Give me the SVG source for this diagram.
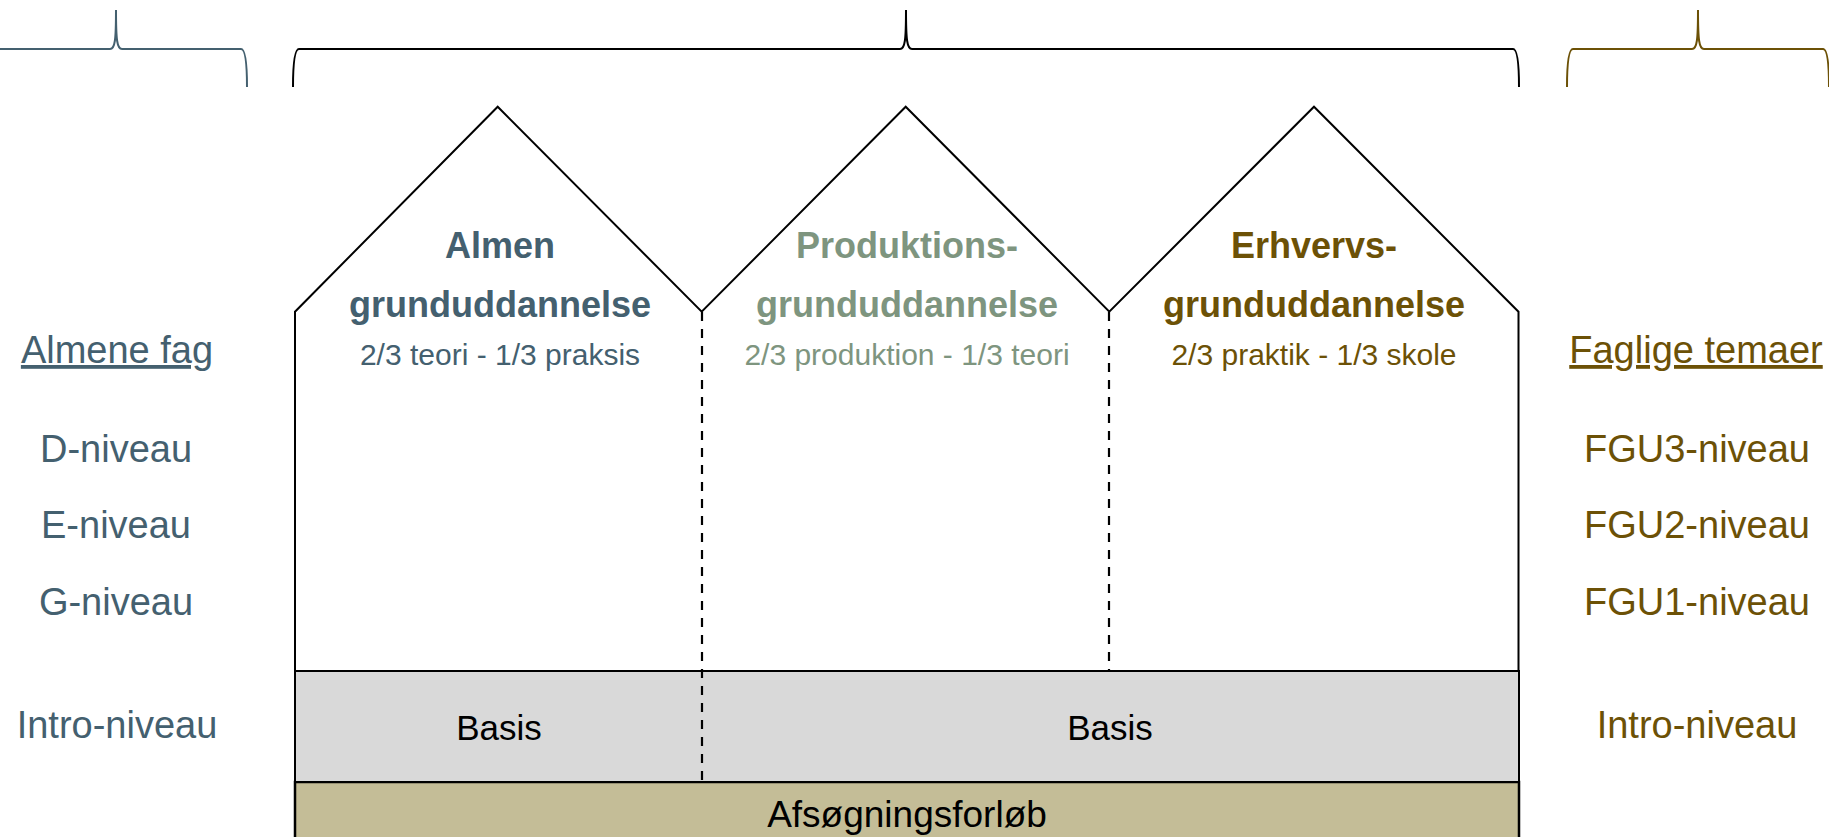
<svg xmlns="http://www.w3.org/2000/svg" width="1829" height="837" viewBox="0 0 1829 837">
  <style>
    text { font-family: "Liberation Sans", Arial, sans-serif; text-anchor: middle; }
    .lbl { font-size: 38px; }
    .title { font-size: 36px; font-weight: bold; }
    .sub { font-size: 30px; }
    .blue { fill: #44606F; }
    .green { fill: #7E957F; }
    .brown { fill: #6C5106; }
    .brace { fill: none; stroke-width: 2; }
    .outline { fill: none; stroke: #000; stroke-width: 2; stroke-linejoin: miter; }
    .dash { stroke: #000; stroke-width: 2.2; stroke-dasharray: 9 8; }
  </style>

  <rect width="1829" height="837" fill="#ffffff"/>

  <!-- braces -->
  <g id="brace-left">
    <path class="brace" stroke="#44606F" d="M-15,87 C-15,60 -13,49 -9,49 L110,49 C115,49 116,40 116,10 C116,40 117,49 122,49 L241,49 C245,49 247,60 247,87"/>
  </g>
  <g id="brace-middle">
    <path class="brace" stroke="#000000" d="M293,87 C293,60 295,49 299,49 L900,49 C905,49 906,40 906,10 C906,40 907,49 912,49 L1513,49 C1517,49 1519,60 1519,87"/>
  </g>
  <g id="brace-right">
    <path class="brace" stroke="#6C5106" d="M1567,87 C1567,60 1569,49 1573,49 L1692,49 C1697,49 1698,40 1698,10 C1698,40 1699,49 1704,49 L1823,49 C1827,49 1829,60 1829,87"/>
  </g>

  <!-- bottom bands -->
  <g id="afsoegning">
    <rect x="295" y="782" width="1224" height="70" fill="#C4BD97" stroke="#000" stroke-width="2.5"/>
    <text x="907" y="827" style="font-size:37px" fill="#000">Afsøgningsforløb</text>
  </g>
  <g id="basis-band">
    <rect x="295" y="671" width="1224" height="111" fill="#D9D9D9" stroke="#000" stroke-width="2"/>
  </g>
  <g id="basis-1">
    <text x="499" y="740" style="font-size:35px" fill="#000">Basis</text>
  </g>
  <g id="basis-2">
    <text x="1110" y="740" style="font-size:35px" fill="#000">Basis</text>
  </g>

  <!-- house outline -->
  <g id="house">
    <polyline class="outline" points="295,671 295,311.7 497.7,106.7 701.7,311.7 905.7,106.7 1109.3,311.7 1314,106.7 1518.5,311.7 1518.5,671"/>
  </g>

  <!-- dashed separators -->
  <g id="connectors">
    <line class="dash" x1="702" y1="312" x2="702" y2="781"/>
    <line class="dash" x1="1109" y1="312" x2="1109" y2="670"/>
  </g>

  <!-- house sections -->
  <g id="almen">
    <text class="title blue" x="500" y="258">Almen</text>
    <text class="title blue" x="500" y="317">grunduddannelse</text>
    <text class="sub blue" x="500" y="365">2/3 teori - 1/3 praksis</text>
  </g>
  <g id="produktion">
    <text class="title green" x="907" y="258">Produktions-</text>
    <text class="title green" x="907" y="317">grunduddannelse</text>
    <text class="sub green" x="907" y="365">2/3 produktion - 1/3 teori</text>
  </g>
  <g id="erhverv">
    <text class="title brown" x="1314" y="258">Erhvervs-</text>
    <text class="title brown" x="1314" y="317">grunduddannelse</text>
    <text class="sub brown" x="1314" y="365">2/3 praktik - 1/3 skole</text>
  </g>

  <!-- left labels -->
  <g id="almene-fag">
    <text class="lbl blue" x="117" y="363" text-decoration="underline">Almene fag</text>
    <text class="lbl blue" x="116" y="462">D-niveau</text>
    <text class="lbl blue" x="116" y="538">E-niveau</text>
    <text class="lbl blue" x="116" y="615">G-niveau</text>
    <text class="lbl blue" x="117" y="738">Intro-niveau</text>
  </g>

  <!-- right labels -->
  <g id="faglige-temaer">
    <text class="lbl brown" x="1696" y="363" text-decoration="underline">Faglige temaer</text>
    <text class="lbl brown" x="1697" y="462">FGU3-niveau</text>
    <text class="lbl brown" x="1697" y="538">FGU2-niveau</text>
    <text class="lbl brown" x="1697" y="615">FGU1-niveau</text>
    <text class="lbl brown" x="1697" y="738">Intro-niveau</text>
  </g>
</svg>
